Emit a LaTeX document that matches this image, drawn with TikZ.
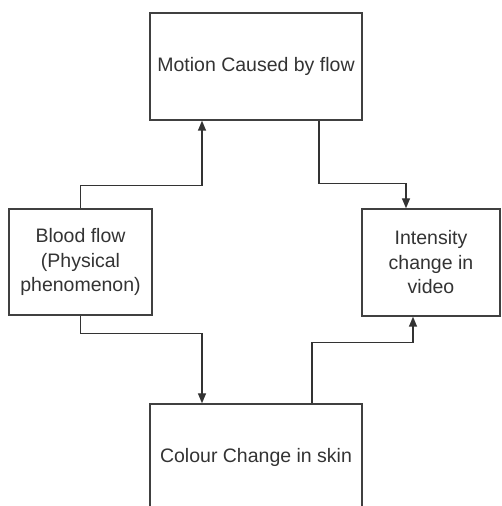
\documentclass[tikz,border=0pt]{standalone}
\usepackage{fontspec}
\setmainfont{Liberation Sans}
\usetikzlibrary{arrows.meta}

\begin{document}
\begin{tikzpicture}[x=1pt, y=1pt,
		box/.style={draw=black!75, line width=1.4pt, fill=white, align=center, text=black!80,
			font=\fontsize{19.5}{24.5}\selectfont, inner sep=0pt},
		link/.style={draw=black!80, line width=1.4pt, -{Triangle[length=10pt,width=8pt]}}]
	\useasboundingbox (0,0) rectangle (502,506);
	\begin{scope}
		\clip (0,0) rectangle (502,506);
		\node [box, minimum width=212pt, minimum height=107pt] (motion) at (256,439.5) {Motion Caused by flow};
		\node [box, minimum width=143pt, minimum height=106pt] (blood) at (80.5,244) {Blood flow\\(Physical\\phenomenon)};
		\node [box, minimum width=138pt, minimum height=107pt] (intensity) at (431,243.5) {Intensity\\change in\\video};
		\node [box, minimum width=212pt, minimum height=107pt] (colour) at (256,48.5) {Colour Change in skin};
	\end{scope}
	% connector ends on the box edges
	\coordinate (motionin) at ([xshift=-54pt]motion.south);
	\coordinate (motionout) at ([xshift=63pt]motion.south);
	\coordinate (colourin) at ([xshift=-54pt]colour.north);
	\coordinate (colourout) at ([xshift=56pt]colour.north);
	\coordinate (intensityin) at ([xshift=-25pt]intensity.north);
	\coordinate (intensityin2) at ([xshift=-18pt]intensity.south);
	\draw [link] (blood.north) -- ++(0,23) -| (motionin);
	\draw [link] (motionout) -- ++(0,-63) -| (intensityin);
	\draw [link] (blood.south) -- ++(0,-18) -| (colourin);
	\draw [link] (colourout) -- ++(0,61) -| (intensityin2);
\end{tikzpicture}
\end{document}
